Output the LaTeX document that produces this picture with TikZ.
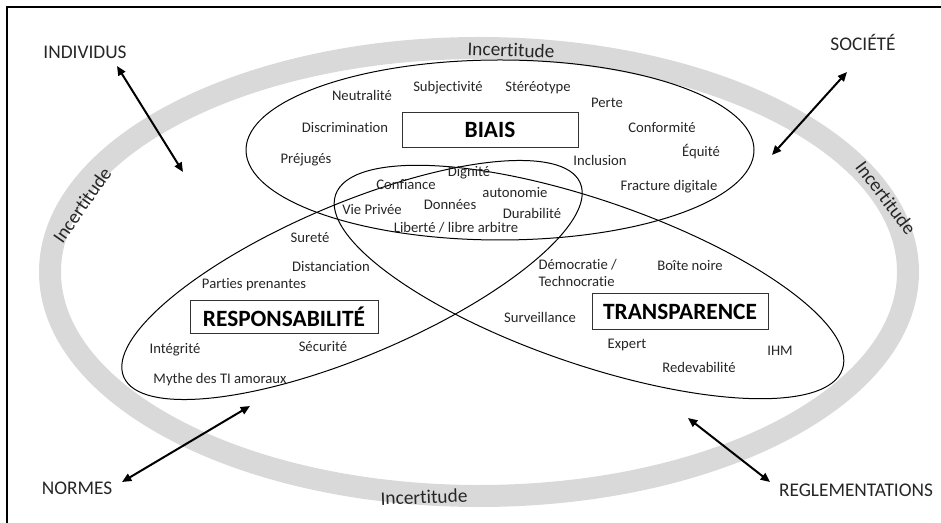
\documentclass[tikz,border=0pt]{standalone}
\usepackage{fontspec}
\setmainfont{Carlito}[Ligatures=NoCommon]
\usetikzlibrary{positioning}
\usetikzlibrary{arrows.meta}
\tikzset{
    mytext/.style = {font=\fontsize{11}{13}\selectfont, text=black!85, inner sep=1pt},
    mycap/.style = {font=\fontsize{14.5}{17}\selectfont, text=black!85, inner sep=1pt},
    mybox/.style = {rectangle, draw=black!80, fill=white, line width=0.75pt, font=\bfseries\fontsize{17.5}{20}\selectfont, text=black},
    myring/.style = {draw=gray!30, line width=16.5pt},
    myoval/.style = {draw=black, line width=0.75pt},
    myincert/.style = {font=\fontsize{14.5}{17}\selectfont, text=black!85, inner sep=0pt},
    edgea/.style = {{Triangle[length=7pt,width=6pt]}-{Triangle[length=7pt,width=6pt]}, line width=1.5pt, black}
}

\begin{document}
\begin{tikzpicture}[x=0.75pt, y=-0.75pt]
  \useasboundingbox (0,0) rectangle (941,523);
  % frame
  \draw[line width=1.5pt] (7,523) -- (7,7) -- (941,7);

  % ring
  \draw[myring] (479,272) ellipse [x radius=429, y radius=224];
  \node[myincert, rotate=-2] (inc-top) at (511,50) {Incertitude};
  \node[myincert, rotate=55] (inc-left) at (82,205) {Incertitude};
  \node[myincert, rotate=-53] (inc-right) at (886,198) {Incertitude};
  \node[myincert, rotate=2] (inc-bot) at (424,497) {Incertitude};

  % ovals
  \draw[myoval] (500,150) ellipse [x radius=254, y radius=90];
  \draw[myoval, rotate around={23:(352,280)}] (352,280) ellipse [x radius=248, y radius=76];
  \draw[myoval, rotate around={-19:(589,282)}] (589,282) ellipse [x radius=268, y radius=82];

  % boxes
  \node[mybox, minimum width=132pt, minimum height=26.25pt] (biais) at (490,130) {BIAIS};
  \node[mybox, minimum width=141pt, minimum height=24.75pt] (resp) at (284,317) {RESPONSABILITÉ};
  \node[mybox, minimum width=132pt, minimum height=27pt] (transp) at (680,312) {TRANSPARENCE};

  % biais
  \node[mytext] (neutr) at (362,95) {Neutralité};
  \node[mytext] (subj) at (448,88) {Subjectivité};
  \node[mytext] (stereo) at (538,88) {Stéréotype};
  \node[mytext] (perte) at (607,103) {Perte};
  \node[mytext] (discr) at (345,128) {Discrimination};
  \node[mytext] (conf) at (662,128) {Conformité};
  \node[mytext] (prej) at (306,160) {Préjugés};
  \node[mytext] (incl) at (600,160) {Inclusion};
  \node[mytext] (equit) at (701,152) {Équité};
  \node[mytext] (fract) at (669,187) {Fracture digitale};

  % centre
  \node[mytext] (confi) at (406,185) {Confiance};
  \node[mytext] (dign) at (469,173) {Dignité};
  \node[mytext] (auto) at (515,193) {autonomie};
  \node[mytext] (vie) at (372,210) {Vie Privée};
  \node[mytext] (donn) at (450,205) {Données};
  \node[mytext] (dura) at (532,213) {Durabilité};
  \node[mytext] (liber) at (456,228) {Liberté / libre arbitre};

  % responsabilite
  \node[mytext] (sure) at (310,238) {Sureté};
  \node[mytext] (dist) at (331,267) {Distanciation};
  \node[mytext] (parties) at (254,285) {Parties prenantes};
  \node[mytext] (integ) at (175,350) {Intégrité};
  \node[mytext] (secu) at (323,347) {Sécurité};
  \node[mytext] (mythe) at (220,380) {Mythe des TI amoraux};

  % transparence
  \node[mytext, anchor=west, align=left] (democ) at (537,273) {Démocratie /\\Technocratie};
  \node[mytext] (boite) at (690,266) {Boîte noire};
  \node[mytext] (surv) at (540,317) {Surveillance};
  \node[mytext] (expert) at (627,345) {Expert};
  \node[mytext] (ihm) at (780,351) {IHM};
  \node[mytext] (redev) at (699,367) {Redevabilité};

  % corners
  \node[mycap] (indiv) at (85,52) {INDIVIDUS};
  \node[mycap] (societe) at (863,43) {SOCIÉTÉ};
  \node[mycap] (normes) at (77,488) {NORMES};
  \node[mycap] (regl) at (856,490) {REGLEMENTATIONS};

  \coordinate (indiv-a) at (117,66);
  \coordinate (indiv-b) at (183,172);
  \coordinate (societe-a) at (847,72);
  \coordinate (societe-b) at (772,155);
  \coordinate (normes-a) at (122,482);
  \coordinate (normes-b) at (250,406);
  \coordinate (regl-a) at (770,482);
  \coordinate (regl-b) at (688,418);
  \draw[edgea] (indiv-a) -- (indiv-b);
  \draw[edgea] (societe-a) -- (societe-b);
  \draw[edgea] (normes-a) -- (normes-b);
  \draw[edgea] (regl-a) -- (regl-b);
\end{tikzpicture}
\end{document}
